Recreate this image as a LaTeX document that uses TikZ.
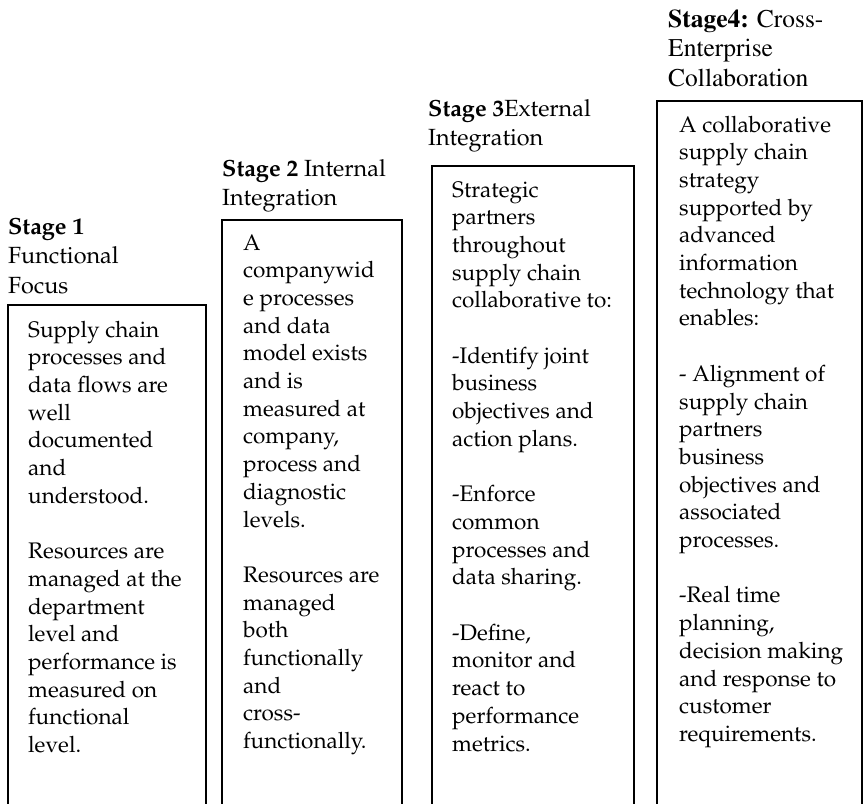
\documentclass[tikz,border=0pt]{standalone}
\usepackage[T1]{fontenc}
\usepackage{mathpazo}
\begin{document}
\begin{tikzpicture}[x=1pt,y=-1pt,
  stagebox/.style={draw=black, line width=1.7pt},
  body/.style={anchor=base west, inner sep=0pt, font=\fontsize{22.5}{27.7}\selectfont},
  head/.style={anchor=base west, inner sep=0pt, font=\fontsize{23.4}{29.8}\selectfont},
  headtimes/.style={anchor=base west, inner sep=0pt, font=\fontfamily{ptm}\fontsize{25.5}{29.5}\selectfont}]
\useasboundingbox (0,0) rectangle (866,803);

% open-bottomed stage frames, stepping up from left to right
\draw[stagebox] (8,810) -- (8,305) -- (206,305) -- (206,810);
\draw[stagebox] (222,810) -- (222,220) -- (402,220) -- (402,810);
\draw[stagebox] (432,810) -- (432,166) -- (634,166) -- (634,810);
\draw[stagebox] (657,810) -- (657,101) -- (862,101) -- (862,810);

% stage headings
\node[head] (h1) at (8,234) {\parbox[t]{250pt}{\textbf{Stage 1}\\Functional\\Focus}};
\node[head] (h2) at (222,176) {\parbox[t]{250pt}{\textbf{Stage 2} Internal\\Integration}};
\node[head] (h3) at (428,116) {\parbox[t]{250pt}{\textbf{Stage 3}External\\Integration}};
\node[headtimes] (h4) at (668,27) {\parbox[t]{250pt}{\textbf{Stage4:} Cross-\\Enterprise\\Collaboration}};

% stage descriptions
\node[body] (b1) at (28,337) {\parbox[t]{250pt}{Supply chain\\processes and\\data flows are\\well\\documented\\and\\understood.\\[27.7pt]Resources are\\managed at the\\department\\level and\\performance is\\measured on\\functional\\level.}};

\node[body] (b2) at (243,250) {\parbox[t]{250pt}{A\\companywid\\e processes\\and data\\model exists\\and is\\measured at\\company,\\process and\\diagnostic\\levels.\\[27.7pt]Resources are\\managed\\both\\functionally\\and\\cross-\\functionally.}};

\node[body] (b3) at (452,197) {\parbox[t]{250pt}{Strategic\\partners\\throughout\\supply chain\\collaborative to:\\[27.7pt]-Identify joint\\business\\objectives and\\action plans.\\[27.7pt]-Enforce\\common\\processes and\\data sharing.\\[27.7pt]-Define,\\monitor and\\react to\\performance\\metrics.}};

\node[body] (b4) at (679,132) {\parbox[t]{250pt}{A collaborative\\supply chain\\strategy\\supported by\\advanced\\information\\technology that\\enables:\\[27.7pt]- Alignment of\\supply chain\\partners\\business\\objectives and\\associated\\processes.\\[27.7pt]-Real time\\planning,\\decision making\\and response to\\customer\\requirements.}};
\end{tikzpicture}
\end{document}
